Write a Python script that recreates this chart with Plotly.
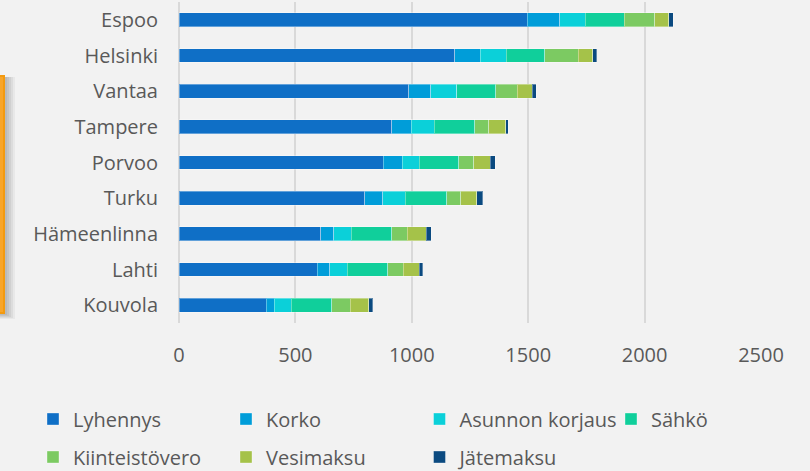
import plotly.graph_objects as go

cities = ["Espoo", "Helsinki", "Vantaa", "Tampere", "Porvoo", "Turku", "Hämeenlinna", "Lahti", "Kouvola"]
lyhennys = [1495, 1185, 987, 914, 877, 798, 608, 594, 375]
korko = [141, 110, 95, 83, 81, 78, 57, 54, 34]
asunnon_korjaus = [108, 110, 110, 99, 73, 95, 75, 74, 73]
sahko = [169, 167, 169, 174, 171, 179, 174, 175, 175]
kiinteistovero = [130, 142, 91, 60, 64, 60, 66, 66, 78]
vesimaksu = [61, 63, 65, 73, 72, 68, 81, 68, 79]
jatemaksu = [19, 17, 17, 12, 21, 27, 22, 16, 19]

series_names = ["Lyhennys", "Korko", "Asunnon korjaus", "Sähkö", "Kiinteistövero", "Vesimaksu", "Jätemaksu"]
series_values = [lyhennys, korko, asunnon_korjaus, sahko, kiinteistovero, vesimaksu, jatemaksu]
colors = ["#0F6FC6", "#009DD9", "#0BD0D9", "#10CF9B", "#7CCA62", "#A5C249", "#0B4A80"]
x_ticks = [0, 500, 1000, 1500, 2000, 2500]

FONT = "Open Sans"
TXT = "#595959"

W, H = 810, 471
ml, mr, mt, mb = 179, 49, 2, 148
pw = W - ml - mr
ph = H - mt - mb


def px_x(p):
    return (p - ml) / pw


def px_y(p):
    return (H - mb - p) / ph


# legend slot (left pixel, centre row pixel) for each series: 4 columns, 2 rows
legend_cols = [33, 226, 419.5, 611]
legend_rows = [419, 457]
legend_slots = [(legend_cols[i % 4], legend_rows[i // 4]) for i in range(len(series_names))]

fig = go.Figure()
legend_layout = {}
for i, (name, vals, col) in enumerate(zip(series_names, series_values, colors)):
    lid = "legend" if i == 0 else f"legend{i + 1}"
    fig.add_trace(go.Bar(
        y=cities, x=vals, name=name, orientation="h",
        marker=dict(color=col, line=dict(color="rgba(255,255,255,0.35)", width=1)),
        legend=lid,
    ))
    lx, ly = legend_slots[i]
    legend_layout[lid] = dict(
        orientation="h", x=px_x(lx), xanchor="left", y=px_y(ly), yanchor="middle",
        bgcolor="rgba(0,0,0,0)", font=dict(family=FONT, size=20, color=TXT),
    )

shapes = []
# soft shadow of the cropped box on the left
for i, a in enumerate([0.05, 0.05, 0.05, 0.05, 0.04]):
    shapes.append(dict(type="rect", xref="paper", yref="paper",
                       x0=px_x(-40), x1=px_x(5 + 2 * (i + 1)),
                       y0=px_y(313 + 2 + i), y1=px_y(76 + 1),
                       fillcolor=f"rgba(0,0,0,{a})", line=dict(width=0), layer="below"))
shapes.append(dict(type="rect", xref="paper", yref="paper",
                   x0=px_x(-40), x1=px_x(4), y0=px_y(313), y1=px_y(76),
                   fillcolor="#F8A52A", line=dict(color="#F39A10", width=2), layer="above"))

fig.update_layout(
    width=W, height=H,
    margin=dict(l=ml, r=mr, t=mt, b=mb, autoexpand=False),
    paper_bgcolor="#F2F2F2", plot_bgcolor="#F2F2F2",
    barmode="stack", bargap=0.61,
    font=dict(family=FONT, size=20, color=TXT),
    xaxis=dict(range=[0, 2500], tickvals=x_ticks, ticktext=[str(v) for v in x_ticks],
               showgrid=True, gridcolor="#D9D9D9", gridwidth=1.5,
               zeroline=True, zerolinecolor="#D9D9D9", zerolinewidth=1.5,
               showline=False, ticks="", ticklabelstandoff=18, automargin=False,
               tickfont=dict(family=FONT, size=20, color=TXT)),
    yaxis=dict(categoryorder="array", categoryarray=cities, autorange="reversed",
               showgrid=False, zeroline=False, showline=False, ticks="",
               ticklabelstandoff=20, automargin=False,
               tickfont=dict(family=FONT, size=20, color=TXT)),
    shapes=shapes,
    showlegend=True,
    **legend_layout,
)

fig.write_html(
    "out.html",
    config={"displayModeBar": False},
    post_script="document.body.style.margin='0';document.body.style.background='#F2F2F2';",
)
